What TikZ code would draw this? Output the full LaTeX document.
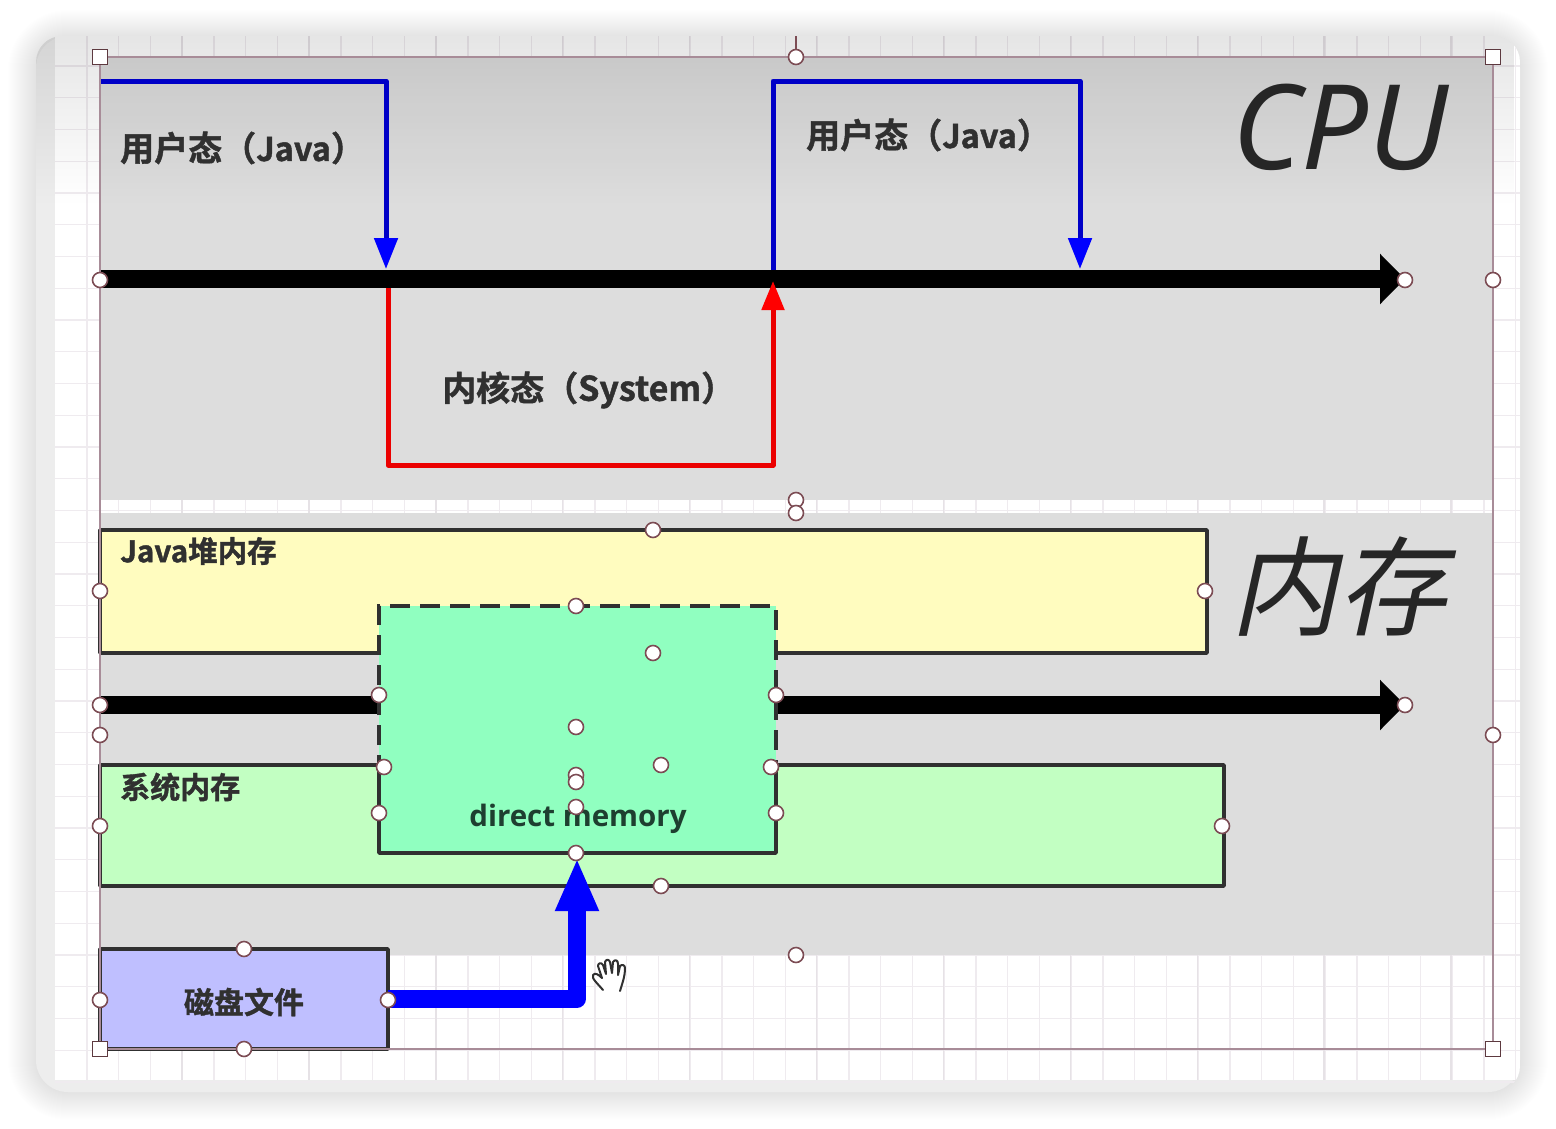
\documentclass[tikz,border=0pt]{standalone}
\usepackage{fontspec}
\setmainfont{Noto Sans}
\newfontfamily\cjkbold[FakeBold=1.3]{Noto Sans CJK SC Bold}
\newfontfamily\cjkslant[FakeSlant=0.22]{Noto Sans CJK SC}
\newfontfamily\latinbold{Open Sans Bold}
\usetikzlibrary{fadings,arrows.meta}
\tikzfading[name=topfade, top color=transparent!90, bottom color=transparent!100]
\definecolor{ink}{HTML}{303030}
\definecolor{frameline}{HTML}{A88C98}
\definecolor{handleline}{HTML}{7C4C54}
\definecolor{gridline}{HTML}{EFEBEF}
\definecolor{gridstrong}{HTML}{E6E2E6}
\definecolor{directfill}{RGB}{144,255,192}
\definecolor{directtext}{HTML}{1E3F30}
\newcommand{\javaword}{{\fontsize{32.5}{33}\selectfont Java}}
\tikzset{
  boxshape/.style={draw=ink, line width=3.5pt, line join=round, inner sep=0pt, outer sep=0pt, anchor=north west},
  boxlabel/.style={text=ink, inner sep=0pt},
  largelabel/.style={boxlabel, font=\cjkbold\fontsize{34}{34}\selectfont, anchor=west},
  roundhandle/.style={circle, draw=handleline, line width=1.6pt, fill=white, minimum size=15pt, inner sep=0pt},
  squarehandle/.style={rectangle, draw=handleline!75!black, line width=1.8pt, fill=white, minimum size=15pt, inner sep=0pt},
  timeline/.style={line width=18pt, -{Triangle[length=25pt,width=49pt]}, black},
  thinblue/.style={line width=5pt, color=blue!78!black, line join=round, -{Triangle[length=31pt,width=23pt,color=blue]}},
  thinred/.style={line width=5pt, color=red!92!black, line join=round, -{Triangle[length=29pt,width=22pt,color=red]}},
  thickblue/.style={line width=17.5pt, color=blue, line join=round, -{Triangle[length=53pt,width=40pt]}},
}
\begin{document}
\begin{tikzpicture}[x=1pt,y=-1pt]
\useasboundingbox (0,0) rectangle (1556,1128);

% soft drop shadow of the application window
\foreach \r in {1,...,28}{
  \draw[black, opacity=.0045, line width=2*\r pt, rounded corners=32pt] (36,38) rectangle (1520,1092);
}
% window body and drawing canvas
\fill[white!93!black, rounded corners=32pt] (36,36) rectangle (1520,1092);
\begin{scope}
  \clip[rounded corners=26pt] (36,36) rectangle (1520,1092);
  \fill[white] (55,36) rectangle (1520,1080);
  \foreach \k in {0,...,45}{
    \pgfmathsetmacro{\gx}{87+31.75*\k}
    \draw[gridline, line width=1.4pt] (\gx,36) -- (\gx,1080);
  }
  \foreach \k in {0,...,32}{
    \pgfmathsetmacro{\gy}{66+31.75*\k}
    \draw[gridline, line width=1.4pt] (55,\gy) -- (1520,\gy);
  }
  \foreach \k in {0,...,11}{
    \pgfmathsetmacro{\gx}{182+126.9*\k}
    \draw[gridstrong, line width=1.4pt] (\gx,36) -- (\gx,1080);
  }
  % grey swim bands
  \fill[black!13.5] (100,57) rectangle (1493,500);
  \fill[black!13.5] (100,513) rectangle (1493,955);
  \fill[black, path fading=topfade, fit fading=true] (36,36) rectangle (1520,205);
\end{scope}

% memory regions
\node[boxshape, fill=yellow!25!white, minimum width=1107pt, minimum height=123pt] (heap) at (100,530) {};
\node[boxshape, fill=green!24!white, minimum width=1124pt, minimum height=121pt] (sysmem) at (100,765) {};
\node[boxshape, fill=blue!25!white, minimum width=288pt, minimum height=100pt] (disk) at (100,949) {};

% time axes
\coordinate (cpuStart) at (100,279);
\coordinate (cpuEnd) at (1405,279);
\coordinate (memStart) at (100,705);
\coordinate (memEnd) at (1405,705);
\draw[timeline] (cpuStart) -- (cpuEnd);
\draw[timeline] (memStart) -- (memEnd);

% direct memory: dashed over the heap, solid over system memory
\fill[directfill] (379,606) rectangle (776,853);
\coordinate (dmA) at (379,765);
\coordinate (dmB) at (379,606);
\coordinate (dmC) at (776,606);
\coordinate (dmD) at (776,765);
\coordinate (dmE) at (379,853);
\coordinate (dmF) at (776,853);
\draw[ink, line width=3.5pt, dash pattern=on 20pt off 10pt, dash phase=10pt] (dmA) -- (dmB) -- (dmC) -- (dmD);
\draw[ink, line width=3.5pt, line join=round] (dmA) -- (dmE) -- (dmF) -- (dmD);

% user mode / kernel mode transitions
\coordinate (u1a) at (100,81);
\coordinate (u1b) at (386,81);
\coordinate (u1c) at (386,269);
\draw[thinblue] (u1a) -- (u1b) -- (u1c);
\coordinate (k1) at (388,288);
\coordinate (k2) at (388,465);
\coordinate (k3) at (773,465);
\coordinate (k4) at (773,281);
\draw[thinred] (k1) -- (k2) -- (k3) -- (k4);
\coordinate (u2a) at (773,270);
\coordinate (u2b) at (773,81);
\coordinate (u2c) at (1080,81);
\coordinate (u2d) at (1080,269);
\draw[thinblue] (u2a) -- (u2b) -- (u2c) -- (u2d);

% load from disk into direct memory
\coordinate (diskOut) at (388,999);
\coordinate (bend) at (577,999);
\coordinate (dmIn) at (577,858);
\draw[thickblue] (diskOut) -- (bend) -- (dmIn);

% labels
\node[largelabel] (user1) at (120,148) {用户态（\javaword）};
\node[largelabel] (user2) at (806,135) {用户态（\javaword）};
\node[largelabel] (kernel) at (442,390) {内核态（System）};
\node[boxlabel, font=\cjkbold\fontsize{29.5}{30}\selectfont, anchor=west] (heaplabel) at (120,551) {Java堆内存};
\node[boxlabel, font=\cjkbold\fontsize{30}{30}\selectfont, anchor=west] (syslabel) at (120,787) {系统内存};
\node[boxlabel, font=\cjkbold\fontsize{30}{30}\selectfont] (disklabel) at (244,1002) {磁盘文件};
\node[boxlabel, text=directtext, font=\latinbold\fontsize{29.5}{30}\selectfont] (dmlabel) at (578,819) {direct memory};
\node[text=black!85, font=\itshape\fontsize{118}{118}\selectfont, inner sep=0pt, anchor=west] (cpu) at (1232,127) {CPU};
\node[text=black!85, font=\cjkslant\fontsize{108}{108}\selectfont, inner sep=0pt, anchor=west] (mem) at (1230,587) {内存};

% selection frame
\coordinate (fA) at (100,57);
\coordinate (fB) at (1493,57);
\coordinate (fC) at (1493,1049);
\coordinate (fD) at (100,1049);
\draw[frameline, line width=1.6pt] (fA) -- (fB) -- (fC) -- (fD) -- cycle;
\coordinate (stemTop) at (796,36);
\coordinate (stemBottom) at (796,57);
\draw[handleline, line width=1.6pt] (stemTop) -- (stemBottom);

% selection handles
\node[squarehandle] (sq1) at (fA) {};
\node[squarehandle] (sq2) at (fB) {};
\node[squarehandle] (sq3) at (fC) {};
\node[squarehandle] (sq4) at (fD) {};
\foreach \n/\hx/\hy in {h1/796/57,h2/100/280,h3/1405/280,h4/1493/280,h5/796/500,h6/796/513,
  h7/653/530,h8/100/591,h9/1205/591,h10/576/606,h11/653/653,h12/100/705,h13/379/695,h14/776/695,
  h15/1405/705,h16/100/735,h17/1493/735,h18/576/727,h19/384/767,h20/771/767,h21/661/765,h22/576/775,
  h23/576/782,h24/576/807,h25/379/813,h26/776/813,h27/100/826,h28/1222/826,h29/576/853,h30/661/886,
  h31/796/955,h32/244/949,h33/100/1000,h34/388/1000,h35/244/1049}{
  \node[roundhandle] (\n) at (\hx,\hy) {};
}

% grab cursor
\draw[ink, line width=2pt, fill=white, line cap=round, line join=round]
  (603,990) .. controls (598,984) and (591,978) .. (593,975)
  .. controls (595,972) and (599,975) .. (602,978)
  -- (598,966) .. controls (598,963) and (601,962) .. (603,965)
  -- (606,974) -- (605,962) .. controls (606,959) and (609,959) .. (610,962)
  -- (612,973) -- (613,962) .. controls (615,959) and (618,960) .. (618,964)
  -- (618,975) -- (620,966) .. controls (622,964) and (625,965) .. (625,968)
  .. controls (625,977) and (622,984) .. (620,991);
\end{tikzpicture}
\end{document}
